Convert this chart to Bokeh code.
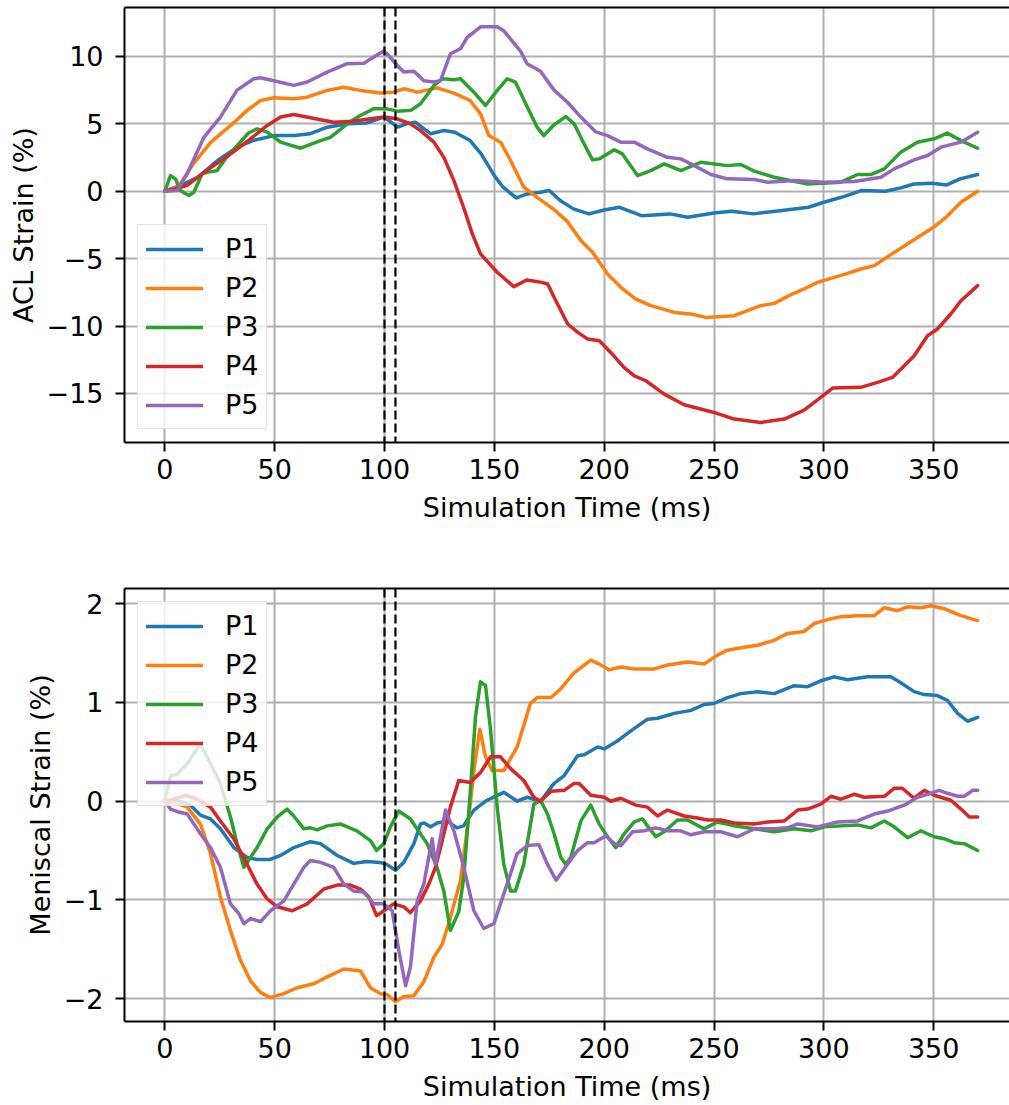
from bokeh.plotting import figure
from bokeh.layouts import column
from bokeh.models import Legend, LegendItem, Span, FixedTicker, LinearAxis
from bokeh.embed import file_html
from bokeh.resources import INLINE

# ---------------- data: ACL strain (%) ----------------
acl_p1_t = [0, 7, 15, 24, 33, 40, 50, 59, 66, 74, 83, 92, 99.7, 101, 106, 110, 114, 121, 127, 132, 139, 144, 150, 154, 160, 165, 171, 175, 180, 186, 193, 200, 207, 217, 230, 238, 250, 258, 268, 280, 293, 300, 308, 317, 328, 335, 341, 349, 356, 362, 370]
acl_p1_v = [0, 0.42, 1.04, 2.28, 3.27, 3.76, 4.13, 4.13, 4.26, 4.75, 5.0, 5.07, 5.5, 5.37, 4.75, 5.0, 5.12, 4.26, 4.5, 4.38, 3.76, 2.77, 1.16, 0.3, -0.5, -0.2, -0.07, 0.05, -0.69, -1.31, -1.68, -1.39, -1.19, -1.81, -1.68, -1.93, -1.61, -1.49, -1.68, -1.44, -1.19, -0.82, -0.45, 0.05, 0, 0.25, 0.54, 0.59, 0.47, 0.92, 1.24]

acl_p2_t = [0, 6, 13, 21, 30, 37.5, 43.6, 49.6, 58.7, 64.8, 73.9, 81.5, 89, 98, 104, 109, 115, 124, 131.6, 139, 143.7, 147.5, 152.8, 157.4, 163.4, 169.5, 177, 183, 189.4, 194.7, 201.5, 207.6, 214.4, 221.2, 232, 239.5, 246.3, 259.2, 265.2, 271.3, 277.4, 285, 291, 297, 304.7, 310.8, 316.8, 323, 330.5, 338, 344, 350, 356, 362.4, 370]
acl_p2_v = [0, 0.3, 2.03, 3.64, 4.88, 6.0, 6.73, 6.93, 6.86, 6.98, 7.48, 7.72, 7.48, 7.28, 7.35, 7.6, 7.35, 7.67, 7.28, 6.73, 5.74, 4.13, 3.64, 2.28, 0.3, -0.45, -1.35, -2.2, -3.66, -4.53, -6.14, -7.13, -8.0, -8.49, -8.99, -9.11, -9.36, -9.23, -8.86, -8.49, -8.32, -7.67, -7.25, -6.76, -6.39, -6.09, -5.77, -5.52, -4.7, -3.91, -3.29, -2.67, -1.88, -0.82, 0]

acl_p3_t = [0, 2.6, 4.9, 7.1, 10.9, 13.2, 17, 19.3, 23.8, 28, 33, 38, 42, 46.6, 52.7, 61.8, 70.9, 75.4, 83, 89, 95, 101, 106, 112, 116.4, 122.5, 126.3, 131.6, 134.6, 140.7, 146, 151.3, 155.8, 159.6, 165, 169.5, 172.5, 177, 182.5, 186.3, 190.9, 194.7, 197.7, 204.6, 208.3, 215.2, 221.2, 227.3, 234.9, 244, 256.1, 262.2, 268.3, 277.4, 292.6, 307.8, 315.3, 321.4, 327.5, 335, 342.6, 350.2, 356.2, 362.4, 370]
acl_p3_v = [0, 1.16, 0.9, 0.05, -0.32, -0.07, 1.29, 1.4, 1.53, 2.5, 3.4, 4.3, 4.63, 4.38, 3.64, 3.19, 3.76, 4.0, 5.0, 5.62, 6.11, 6.11, 5.94, 6.0, 6.49, 7.85, 8.34, 8.27, 8.34, 7.35, 6.36, 7.48, 8.34, 8.1, 6.24, 4.75, 4.13, 4.9, 5.54, 5.0, 3.51, 2.33, 2.4, 3.07, 2.77, 1.16, 1.53, 2.03, 1.53, 2.15, 1.9, 1.98, 1.49, 1.04, 0.54, 0.67, 1.24, 1.24, 1.66, 2.9, 3.64, 3.89, 4.31, 3.76, 3.19]

acl_p4_t = [0, 10, 19, 30, 39, 46.6, 52.7, 58.7, 66.3, 76.9, 86, 93.6, 99.7, 105.8, 111.8, 116.4, 122.5, 127, 131.6, 136, 140, 143.7, 151.3, 158.9, 164.9, 171.5, 174.3, 178, 183.4, 188, 192.5, 197.8, 203, 209, 213.7, 219, 227.3, 236.4, 250, 259.2, 271.3, 282, 291, 298.6, 304, 316.8, 324.4, 331.2, 335.8, 341.1, 347.2, 351.7, 357.8, 362.4, 370]
acl_p4_v = [0, 0.42, 1.53, 2.77, 3.89, 4.88, 5.5, 5.69, 5.45, 5.12, 5.2, 5.37, 5.5, 5.37, 5.0, 4.5, 3.64, 2.52, 0.79, -1.19, -3.17, -4.65, -6.01, -7.08, -6.58, -6.76, -6.88, -8.12, -9.85, -10.47, -10.97, -11.09, -11.96, -13.07, -13.69, -14.06, -15.05, -15.84, -16.41, -16.9, -17.15, -16.9, -16.24, -15.3, -14.6, -14.55, -14.18, -13.81, -13.07, -12.2, -10.72, -10.22, -9.11, -8.12, -7.0]

acl_p5_t = [0, 5.6, 10.2, 17.8, 25.3, 32.9, 40.5, 43.5, 49.6, 58.7, 64.8, 73.9, 83, 90.6, 95.1, 99.7, 101.2, 105.8, 108.8, 113.4, 117.9, 122.5, 125.5, 130, 134.6, 137.6, 143.7, 151.3, 154.3, 161.9, 164.9, 171, 177.2, 183.3, 189.4, 196.2, 201.5, 207.6, 213.7, 219.7, 228.8, 234.9, 241, 248.6, 256.1, 268.3, 274.4, 286.5, 300.2, 313.8, 326, 332, 341.1, 347.2, 353.3, 362.4, 370]
acl_p5_v = [0, 0.05, 1.29, 4.0, 5.5, 7.5, 8.34, 8.42, 8.2, 7.85, 8.1, 8.84, 9.46, 9.5, 9.95, 10.4, 10.2, 9.33, 8.84, 8.9, 8.2, 8.1, 8.2, 10.2, 10.57, 11.4, 12.2, 12.2, 11.9, 10.4, 9.46, 8.9, 7.5, 6.6, 5.5, 4.4, 4.13, 3.64, 3.64, 3.14, 2.52, 2.4, 1.9, 1.24, 0.92, 0.87, 0.67, 0.79, 0.67, 0.72, 1.04, 1.66, 2.33, 2.65, 3.27, 3.64, 4.38]

# ---------------- data: meniscal strain (%) ----------------
men_p1_t = [0, 7, 11.7, 16.2, 20.8, 25.3, 31.4, 37.5, 42, 48, 52.7, 58.7, 66.3, 70.9, 78.5, 86, 92, 98, 101, 105, 108.8, 113.4, 116.4, 118, 121, 124, 128.5, 133, 136, 140.7, 146.7, 154.3, 160.4, 165, 171, 177.2, 181.8, 187.9, 190.9, 197, 200, 206, 211.4, 215.2, 219.7, 224.3, 231.9, 239.5, 245.5, 250, 256.1, 262.2, 269.8, 277.4, 286.5, 292.6, 298.6, 304.7, 310.8, 319.9, 330.5, 335, 341.1, 345.7, 351.7, 356.3, 360.9, 365.4, 370]
men_p1_v = [0, 0, -0.04, -0.14, -0.18, -0.28, -0.47, -0.57, -0.59, -0.59, -0.55, -0.47, -0.41, -0.43, -0.55, -0.63, -0.61, -0.62, -0.64, -0.7, -0.62, -0.43, -0.23, -0.22, -0.26, -0.22, -0.2, -0.27, -0.25, -0.09, 0.01, 0.09, 0, 0.04, 0, 0.18, 0.26, 0.46, 0.47, 0.55, 0.53, 0.61, 0.7, 0.76, 0.83, 0.84, 0.89, 0.92, 0.98, 0.99, 1.05, 1.09, 1.11, 1.09, 1.17, 1.16, 1.22, 1.26, 1.23, 1.26, 1.26, 1.2, 1.11, 1.08, 1.07, 1.02, 0.89, 0.81, 0.85]

men_p2_t = [0, 6.4, 10.2, 16.2, 20.8, 25.3, 29.9, 34.4, 39, 43.6, 48.1, 54.2, 60.2, 67.8, 73.9, 81.5, 89.1, 93.6, 98.2, 101.2, 105, 108.8, 113.4, 117.9, 122.5, 126.3, 130, 134.6, 138.4, 140.7, 143.4, 146, 149, 154.3, 160.4, 166.4, 169.5, 175.8, 180.3, 186.3, 193.9, 198.5, 202.3, 207.6, 213.7, 222.8, 228.8, 237.9, 245.5, 251.6, 256.1, 263.7, 269.8, 277.4, 283.5, 291, 295.6, 301.7, 307.7, 315.3, 322.9, 327.5, 333.5, 338.1, 344.2, 348.7, 354.8, 362.4, 370]
men_p2_v = [0, -0.03, -0.06, -0.23, -0.53, -0.97, -1.31, -1.61, -1.82, -1.94, -1.99, -1.95, -1.89, -1.85, -1.78, -1.7, -1.72, -1.89, -1.95, -1.96, -2.03, -1.98, -1.97, -1.83, -1.58, -1.45, -1.18, -0.8, -0.16, 0.31, 0.73, 0.45, 0.31, 0.31, 0.55, 0.99, 1.05, 1.05, 1.14, 1.3, 1.43, 1.38, 1.33, 1.36, 1.34, 1.34, 1.38, 1.41, 1.39, 1.48, 1.53, 1.56, 1.58, 1.63, 1.7, 1.72, 1.8, 1.84, 1.87, 1.88, 1.88, 1.96, 1.93, 1.97, 1.96, 1.98, 1.95, 1.88, 1.83]

men_p3_t = [0, 2.6, 5.6, 10.2, 16.2, 20.8, 25.3, 29.9, 32.9, 36, 39, 42, 46.6, 51.2, 55.7, 58.7, 63.3, 66.3, 69.3, 73.9, 79.9, 87.4, 93.6, 96.4, 99.7, 102.7, 106.5, 111.8, 119.4, 123.9, 127, 130, 133.8, 136.1, 139.1, 141.4, 143.7, 146, 148.3, 151.3, 154.3, 157.4, 159.6, 163.4, 168, 171, 174.2, 177.2, 180.3, 182.5, 184.8, 189.4, 193.9, 197.7, 201.5, 205.3, 209.1, 213.7, 217.5, 219.7, 223.5, 227.3, 233.4, 237.9, 245.5, 251.6, 259.2, 268.3, 277.4, 286.5, 294.1, 300.2, 307.7, 315.3, 321.4, 327.5, 332, 338.1, 344.2, 350.2, 354.8, 359.3, 363.9, 370]
men_p3_v = [0, 0.26, 0.27, 0.38, 0.58, 0.38, 0.18, -0.16, -0.43, -0.67, -0.57, -0.47, -0.28, -0.16, -0.08, -0.15, -0.28, -0.27, -0.29, -0.25, -0.23, -0.3, -0.4, -0.5, -0.43, -0.26, -0.1, -0.18, -0.43, -0.67, -0.91, -1.31, -1.12, -0.77, 0.11, 0.85, 1.21, 1.17, 0.72, -0.06, -0.64, -0.91, -0.91, -0.64, -0.03, 0.01, -0.13, -0.33, -0.57, -0.64, -0.57, -0.2, -0.04, -0.23, -0.36, -0.47, -0.33, -0.21, -0.18, -0.25, -0.36, -0.31, -0.19, -0.19, -0.28, -0.21, -0.25, -0.28, -0.31, -0.28, -0.3, -0.26, -0.25, -0.24, -0.27, -0.2, -0.26, -0.37, -0.3, -0.36, -0.38, -0.42, -0.43, -0.5]

men_p4_t = [0, 4.1, 9.4, 14.7, 20.8, 25.3, 31.4, 37.5, 42, 46.6, 51.2, 58, 64.8, 72.4, 78.5, 84.5, 89.1, 92.9, 96.4, 99.7, 104.2, 108.8, 111.8, 116.4, 120.2, 123.2, 126.3, 130, 133.8, 139.1, 143.7, 148.3, 152.8, 157.4, 163.4, 168, 171, 175.8, 181.8, 186.3, 188.6, 193.9, 200, 203, 207.6, 214.4, 219.7, 224.3, 228.8, 236.4, 242.5, 247, 253.1, 259.2, 268.3, 274.4, 282, 288.1, 292.6, 298.6, 303.2, 307.8, 313.8, 318.4, 327.5, 332, 335.8, 341.1, 345.7, 350.2, 357.8, 362.4, 366.2, 370]
men_p4_v = [0, 0.02, 0.06, 0.02, -0.06, -0.2, -0.38, -0.64, -0.84, -0.99, -1.07, -1.11, -1.04, -0.89, -0.85, -0.85, -0.89, -0.97, -1.16, -1.11, -1.04, -1.07, -1.13, -1.01, -0.84, -0.67, -0.4, -0.06, 0.21, 0.19, 0.29, 0.45, 0.45, 0.33, 0.21, 0.04, 0, 0.1, 0.11, 0.18, 0.18, 0.06, 0.04, 0, 0.03, -0.04, -0.06, -0.15, -0.09, -0.15, -0.17, -0.19, -0.19, -0.22, -0.23, -0.21, -0.2, -0.09, -0.08, -0.03, 0.05, 0.02, 0.07, 0.04, 0.05, 0.13, 0.13, 0.03, 0.11, 0.06, 0.01, -0.08, -0.16, -0.16]

men_p5_t = [0, 2.6, 6.4, 10.2, 13.2, 16.2, 20.8, 25.3, 29.9, 33.7, 36, 39, 43.6, 48.1, 54.2, 58.7, 63.3, 66.3, 70.9, 76.9, 81.5, 86, 90.6, 95.1, 99.7, 103.5, 106.5, 109.6, 111.8, 114.9, 117.9, 121.7, 123.2, 125.5, 127.8, 131.6, 136.1, 140.7, 145.2, 149.8, 155.8, 160.4, 165, 170.3, 174.2, 178.1, 183.3, 187.9, 192.4, 195.5, 200.8, 204.6, 207.6, 212.9, 218.2, 223.5, 228.8, 234.9, 239.5, 245.5, 253.1, 260.7, 268.3, 277.4, 283.5, 288.1, 297.1, 306.2, 315.3, 322.9, 329, 336.6, 342.6, 347.2, 352.5, 356.3, 360.9, 363.9, 367.7, 370]
men_p5_v = [0, -0.08, -0.11, -0.13, -0.23, -0.33, -0.47, -0.67, -1.04, -1.14, -1.24, -1.19, -1.22, -1.11, -1.01, -0.84, -0.67, -0.6, -0.62, -0.67, -0.84, -0.91, -0.92, -1.04, -1.04, -1.11, -1.51, -1.87, -1.68, -1.01, -0.84, -0.38, -0.64, -0.36, -0.09, -0.3, -0.67, -1.11, -1.29, -1.24, -0.84, -0.53, -0.45, -0.44, -0.64, -0.8, -0.64, -0.5, -0.42, -0.42, -0.35, -0.43, -0.45, -0.31, -0.3, -0.27, -0.3, -0.3, -0.34, -0.31, -0.31, -0.36, -0.28, -0.28, -0.27, -0.23, -0.26, -0.21, -0.2, -0.13, -0.1, -0.04, 0.04, 0.07, 0.11, 0.08, 0.05, 0.05, 0.11, 0.11]

series_labels = ["P1", "P2", "P3", "P4", "P5"]
series_colors = ["#1f77b4", "#ff7f0e", "#2ca02c", "#d62728", "#9467bd"]
x_ticks = [0, 50, 100, 150, 200, 250, 300, 350]
acl_ticks = [-15, -10, -5, 0, 5, 10]
men_ticks = [-2, -1, 0, 1, 2]
event_times = [100, 105]
x_label = "Simulation Time (ms)"
acl_label = "ACL Strain (%)"
men_label = "Meniscal Strain (%)"

acl_series = [(acl_p1_t, acl_p1_v), (acl_p2_t, acl_p2_v), (acl_p3_t, acl_p3_v), (acl_p4_t, acl_p4_v), (acl_p5_t, acl_p5_v)]
men_series = [(men_p1_t, men_p1_v), (men_p2_t, men_p2_v), (men_p3_t, men_p3_v), (men_p4_t, men_p4_v), (men_p5_t, men_p5_v)]

FONT = "DejaVu Sans"
FS = "27px"


def minus(v):
    return ("%g" % v).replace("-", "\u2212")


def style_axis(ax):
    ax.axis_line_width = 2
    ax.axis_line_color = "black"
    ax.major_tick_line_width = 2
    ax.major_tick_line_color = "black"
    ax.major_tick_out = 9
    ax.major_tick_in = 0
    ax.minor_tick_out = 0
    ax.minor_tick_in = 0
    ax.major_label_text_font = FONT
    ax.major_label_text_font_size = FS
    ax.major_label_text_color = "black"
    ax.axis_label_text_font = FONT
    ax.axis_label_text_font_size = FS
    ax.axis_label_text_font_style = "normal"
    ax.axis_label_text_color = "black"


def make_fig(height, y_range, yticks, ylabel, series, legend_loc, b_top, b_bottom, s1, s2):
    p = figure(width=1009, height=height, x_range=(-18.34, 384.5), y_range=y_range,
               output_backend="svg", toolbar_location=None,
               min_border_left=124, min_border_right=0,
               min_border_top=b_top, min_border_bottom=b_bottom)
    p.background_fill_color = "white"
    p.border_fill_color = "white"
    p.outline_line_color = None
    p.xaxis.ticker = FixedTicker(ticks=x_ticks)
    p.yaxis.ticker = FixedTicker(ticks=yticks)
    p.yaxis.major_label_overrides = {t: minus(t) for t in yticks}
    style_axis(p.xaxis[0])
    style_axis(p.yaxis[0])
    p.xaxis.axis_label = x_label
    p.yaxis.axis_label = ylabel
    p.xaxis.major_label_standoff = s1
    p.xaxis.axis_label_standoff = s2
    p.yaxis.major_label_standoff = 12
    p.yaxis.axis_label_standoff = 5

    top = LinearAxis(ticker=FixedTicker(ticks=[]))
    top.axis_line_width = 2
    top.axis_line_color = "black"
    top.major_tick_out = 0
    top.major_tick_in = 0
    top.minor_tick_out = 0
    top.minor_tick_in = 0
    top.major_label_standoff = 0
    top.major_label_text_font_size = "0px"
    p.add_layout(top, "above")

    for g in (p.xgrid[0], p.ygrid[0]):
        g.grid_line_color = "#b0b0b0"
        g.grid_line_width = 2

    items = []
    for (t, v), lab, col in zip(series, series_labels, series_colors):
        assert len(t) == len(v), (lab, len(t), len(v))
        r = p.line(t, v, line_color=col, line_width=3.5, line_join="round", line_cap="round")
        items.append(LegendItem(label=lab, renderers=[r]))

    for et in event_times:
        p.add_layout(Span(location=et, dimension="height", line_color="black",
                          line_width=2.2, line_dash="9 4"))

    leg = Legend(items=items, location=legend_loc)
    leg.label_text_font = FONT
    leg.label_text_font_size = FS
    leg.label_text_color = "black"
    leg.glyph_width = 57
    leg.glyph_height = 20
    leg.label_height = 20
    leg.label_standoff = 22
    leg.spacing = 8
    leg.padding = 8
    leg.margin = 13
    leg.border_line_color = "#cccccc"
    leg.border_line_width = 1.5
    leg.background_fill_color = "white"
    leg.background_fill_alpha = 0.8
    p.add_layout(leg)
    return p


p1 = make_fig(578, (-18.64, 13.63), acl_ticks, acl_label, acl_series, "bottom_left", 7, 136, 7, 10)
p2 = make_fig(527, (-2.232, 2.155), men_ticks, men_label, men_series, "top_left", 10, 84, 7, 10)

p = column(p1, p2, spacing=0)
open("out.html", "w").write(file_html(p, INLINE))
